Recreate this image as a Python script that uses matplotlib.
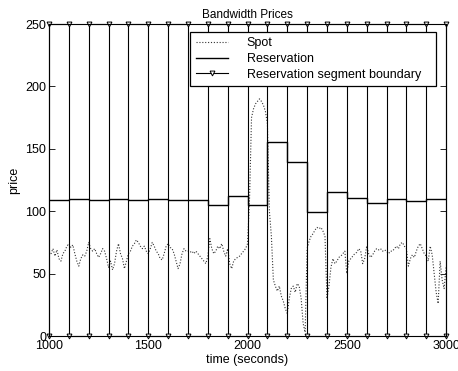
import numpy as np
import matplotlib
matplotlib.use("Agg")
import matplotlib.pyplot as plt

plt.rcParams['font.family'] = ['Liberation Sans', 'DejaVu Sans']

# ---- data ----
spot_t0 = 1000
spot_dt = 10
spot = [68, 66, 70, 64, 69, 62, 60, 66, 68, 72,
        74, 71, 73, 66, 60, 56, 62, 65, 64, 68,
        75, 70, 68, 70, 66, 63, 66, 70, 68, 62,
        55, 60, 53, 58, 68, 74, 66, 62, 54, 60,
        66, 68, 72, 74, 77, 75, 72, 70, 72, 68,
        66, 70, 75, 72, 68, 66, 62, 61, 66, 72,
        74, 71, 70, 66, 60, 54, 58, 66, 70, 68,
        68, 67, 68, 66, 68, 66, 64, 62, 60, 58,
        64, 78, 70, 66, 68, 72, 70, 74, 68, 64,
        70, 58, 54, 60, 62, 63, 64, 66, 68, 70,
        74, 110, 175, 182, 186, 188, 190, 188, 185, 180,
        170, 100, 80, 45, 40, 36, 40, 32, 28, 22,
        18, 30, 38, 40, 35, 42, 40, 30, 10, 3,
        70, 76, 80, 82, 85, 87, 86, 87, 84, 80,
        30, 40, 55, 62, 58, 60, 63, 64, 66, 68,
        50, 60, 62, 64, 66, 67, 70, 68, 58, 62,
        72, 66, 63, 65, 68, 70, 69, 70, 68, 69,
        68, 66, 68, 68, 70, 72, 70, 74, 75, 72,
        70, 56, 62, 65, 63, 68, 72, 74, 70, 66,
        64, 60, 72, 65, 50, 35, 26, 60, 45, 38,
        55]
boundaries = [1000, 1100, 1200, 1300, 1400, 1500, 1600, 1700, 1800, 1900,
              2000, 2100, 2200, 2300, 2400, 2500, 2600, 2700, 2800, 2900, 3000]
reservation = [108.7, 109.5, 108.7, 109.5, 108.7, 109.5, 108.7, 108.7, 104.7, 112.2,
               104.7, 155.7, 139.7, 99.4, 115.4, 110.3, 106.3, 109.5, 108.4, 109.5]
ymin, ymax = 0, 250
xticks = [1000, 1500, 2000, 2500, 3000]
yticks = [0, 50, 100, 150, 200, 250]

# ---- figure ----
fig = plt.figure(figsize=(4.58, 3.71), dpi=100)
ax = fig.add_axes([0.107, 0.0943, 0.867, 0.841])

spot_t = spot_t0 + spot_dt * np.arange(len(spot))
ax.plot(spot_t, spot, linestyle=(0, (1, 1.6)), color='#333333', lw=0.8, label='Spot')

res_x = np.array(boundaries)
res_y = np.append(reservation, reservation[-1])
ax.step(res_x, res_y, where='post', color='black', lw=1.0, label='Reservation')

# square wave through all boundaries (top/bottom)
bx = np.repeat(boundaries, 2)
pattern = [ymin, ymax, ymax, ymin]
by = np.array([pattern[i % 4] for i in range(len(bx))])
ax.plot(bx, by, '-', color='black', lw=0.8, marker='v', markersize=3.5,
        markerfacecolor='white', markeredgecolor='black', markeredgewidth=0.7,
        label='Reservation segment boundary', clip_on=False)

ax.set_xlim(1000, 3000)
ax.set_ylim(ymin, ymax)
ax.set_xticks(xticks)
ax.set_yticks(yticks)
ax.tick_params(direction='in', length=4, width=0.6, labelsize=9,
               top=True, right=True, pad=2)
ax.tick_params(axis='x', pad=3)
for s in ax.spines.values():
    s.set_linewidth(0.8)

ax.set_title('Bandwidth Prices', fontsize=8.5, pad=4)
ax.set_xlabel('time (seconds)', fontsize=9, labelpad=1)
ax.set_ylabel('price', fontsize=9, labelpad=4)

leg = ax.legend(loc='upper left', bbox_to_anchor=(0.355, 0.8077, 0.620, 0.168),
                mode='expand', fontsize=9,
                frameon=True, fancybox=False, edgecolor='black', framealpha=1,
                handlelength=2.6, handletextpad=1.5, borderpad=0.45,
                labelspacing=0.3, borderaxespad=0.0)
leg.get_frame().set_linewidth(0.9)

fig.savefig('out.png', dpi=100)
